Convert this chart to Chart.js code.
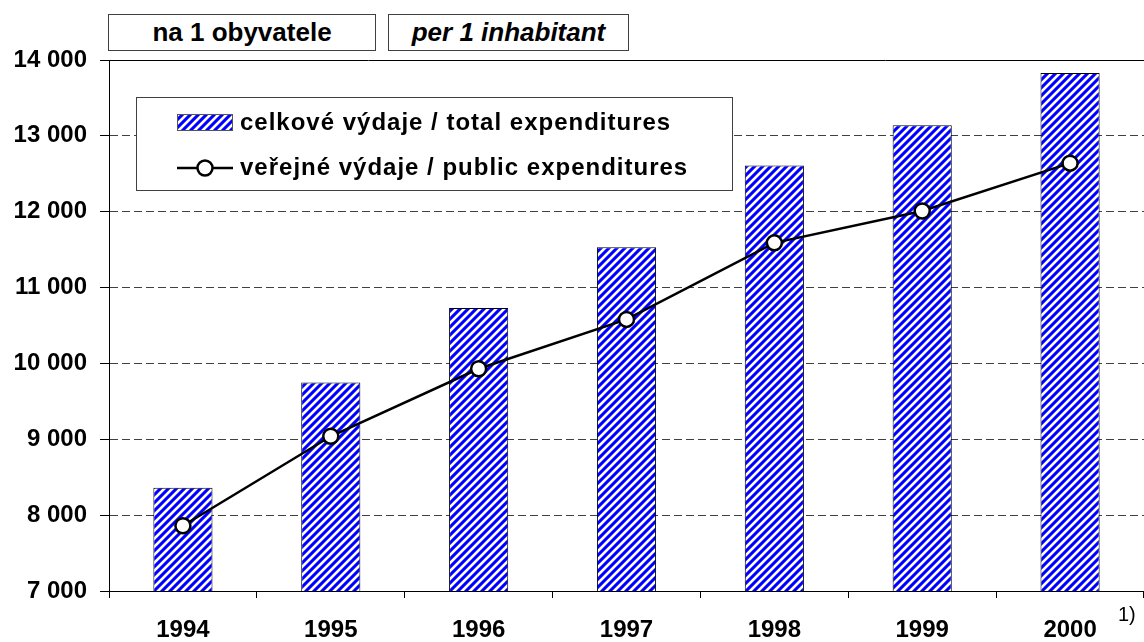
<!DOCTYPE html>
<html>
<head>
<meta charset="utf-8">
<script src="https://cdn.jsdelivr.net/npm/chart.js@4"></script>
<style>
    html, body { margin: 0; padding: 0; background: #fff; overflow: hidden; }
    #wrap { position: relative; width: 1154px; height: 642px; }
    .box {
        position: absolute; top: 14px; height: 37px; box-sizing: border-box;
        border: 1px solid #404040; background: #fff;
        font: bold 26px "Liberation Sans", Arial, sans-serif;
        text-align: center; line-height: 35px; color: #000;
    }
    #note { position: absolute; left: 1118px; top: 603px; font-family: "Liberation Sans", Arial, sans-serif; font-size: 20px; line-height: 22px; }
</style>
</head>
<body>
<div id="wrap">
    <canvas id="myChart" width="1154" height="642"></canvas>
    <div class="box" style="left:108px; width:268px;">na 1 obyvatele</div>
    <div class="box" style="left:388px; width:241px; font-style:italic;">per 1 inhabitant</div>
    <div id="note">1)</div>
</div>
<script>
const years = ["1994", "1995", "1996", "1997", "1998", "1999", "2000"];
const totalExp = [8360, 9750, 10730, 11530, 12610, 13140, 13830];
const publicExp = [7860, 9040, 9930, 10580, 11590, 12010, 12640];
const yTicks = [7000, 8000, 9000, 10000, 11000, 12000, 13000, 14000];
const labelTotal = "celkové výdaje / total expenditures";
const labelPublic = "veřejné výdaje / public expenditures";

Chart.defaults.font.family = '"Liberation Sans", Arial, sans-serif';
Chart.defaults.font.weight = 'bold';
Chart.defaults.font.size = 24;
Chart.defaults.color = '#000';

// blue / white diagonal stripes
function stripes(period){
    const c = document.createElement('canvas');
    c.width = period; c.height = period;
    const g = c.getContext('2d');
    const img = g.createImageData(period, period);
    for (let y = 0; y < period; y++){
        for (let x = 0; x < period; x++){
            const t = ((x + y) % period) / period;
            let w = 0.65 + 0.9 * Math.cos(2 * Math.PI * t);
            w = Math.max(0, Math.min(1, w));
            const i = (y * period + x) * 4;
            img.data[i] = 255 * (1 - w);
            img.data[i + 1] = 255 * (1 - w);
            img.data[i + 2] = 255;
            img.data[i + 3] = 255;
        }
    }
    g.putImageData(img, 0, 0);
    return g.createPattern(c, 'repeat');
}

function fmt(v){
    return String(v).replace(/\B(?=(\d{3})+(?!\d))/g, ' ');
}

const boxLegend = {
    id: 'boxLegend',
    afterDraw(chart){
        const ctx = chart.ctx;
        const bar = chart.data.datasets[1];
        const line = chart.data.datasets[0];
        ctx.save();
        ctx.fillStyle = '#fff';
        ctx.fillRect(136, 97, 596, 93);
        ctx.strokeStyle = '#404040';
        ctx.lineWidth = 1;
        ctx.strokeRect(136.5, 97.5, 596, 93);

        // bar swatch
        ctx.fillStyle = bar.backgroundColor;
        ctx.fillRect(177, 114, 56, 17);
        ctx.strokeStyle = '#555';
        ctx.strokeRect(177.5, 114.5, 55, 16);

        // line swatch
        ctx.strokeStyle = line.borderColor;
        ctx.lineWidth = 2.5;
        ctx.beginPath();
        ctx.moveTo(177, 168);
        ctx.lineTo(233, 168);
        ctx.stroke();
        ctx.beginPath();
        ctx.arc(205, 168, 7.5, 0, Math.PI * 2);
        ctx.fillStyle = '#fff';
        ctx.fill();
        ctx.stroke();

        ctx.fillStyle = '#000';
        ctx.font = 'bold 24px "Liberation Sans", Arial, sans-serif';
        ctx.letterSpacing = '1px';
        ctx.textBaseline = 'middle';
        ctx.fillText(bar.label, 240, 123);
        ctx.fillText(line.label, 240, 168);
        ctx.restore();
    }
};

document.addEventListener("DOMContentLoaded", function(){
    const ctx = document.getElementById('myChart').getContext('2d');
    new Chart(ctx, {
        data: {
            labels: years,
            datasets: [{
                type: 'line',
                label: labelPublic,
                data: publicExp,
                order: 0,
                borderColor: 'black',
                borderWidth: 2.5,
                tension: 0,
                pointRadius: 7.5,
                pointBackgroundColor: 'white',
                pointBorderColor: 'black',
                pointBorderWidth: 2.5
            }, {
                type: 'bar',
                label: labelTotal,
                data: totalExp,
                order: 1,
                backgroundColor: stripes(8),
                borderColor: 'black',
                borderWidth: 1,
                barPercentage: 0.4,
                categoryPercentage: 1.0
            }]
        },
        options: {
            responsive: false,
            animation: false,
            layout: { padding: { top: 60, right: 0, left: 0, bottom: 0 } },
            plugins: { legend: { display: false }, tooltip: { enabled: false } },
            scales: {
                x: {
                    grid: { offset: true, drawOnChartArea: false, tickLength: 7, color: '#000' },
                    border: { color: '#000', width: 1 },
                    ticks: { padding: 18, maxRotation: 0 },
                    afterFit: s => { s.height = 51; }
                },
                y: {
                    min: 7000,
                    max: 14000,
                    afterBuildTicks: s => { s.ticks = yTicks.map(v => ({ value: v })); },
                    afterFit: s => { s.width = 109; },
                    ticks: { padding: 13, callback: v => fmt(v) },
                    grid: {
                        color: c => (c.tick && (c.tick.value === 14000 || c.tick.value === 7000)) ? '#000' : '#404040',
                        tickColor: '#000',
                        tickLength: 9,
                        lineWidth: 1
                    },
                    border: {
                        color: '#000',
                        width: 1,
                        dash: c => (c.tick && (c.tick.value === 14000 || c.tick.value === 7000)) ? [] : [8, 4]
                    }
                }
            }
        },
        plugins: [boxLegend]
    });
});
</script>
</body>
</html>
